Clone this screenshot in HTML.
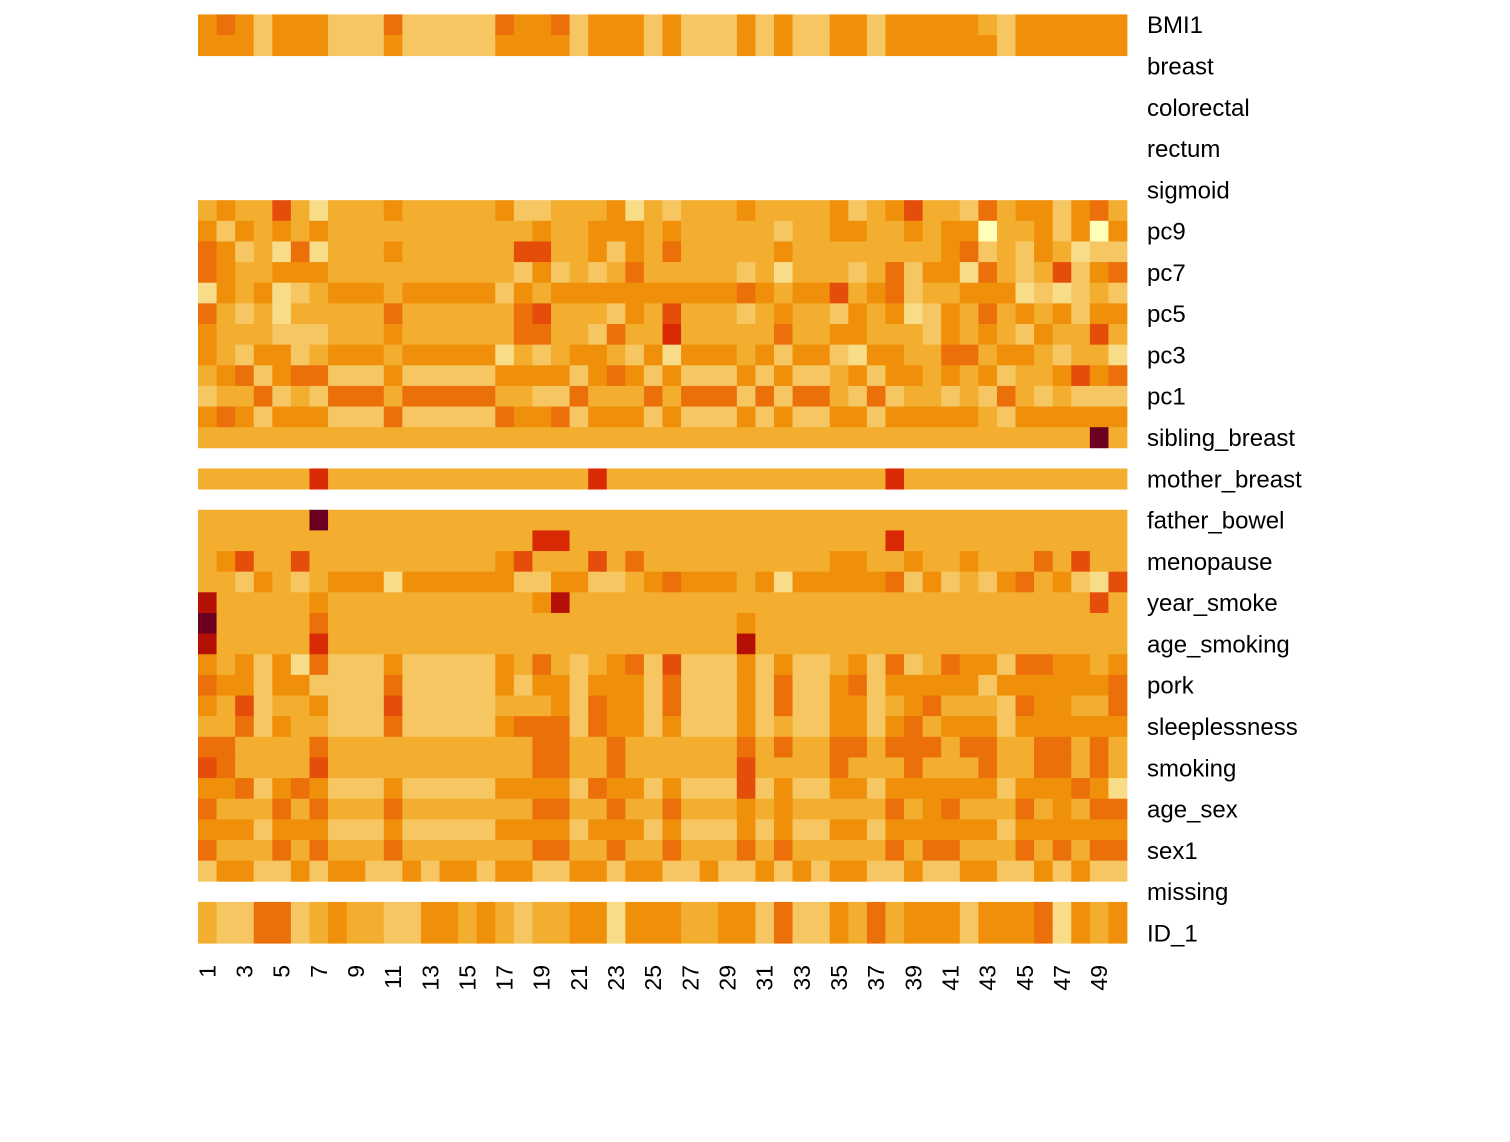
<!DOCTYPE html>
<html><head><meta charset="utf-8"><style>
html,body{margin:0;padding:0;background:#fff;}
svg{display:block;}
text{font-family:"Liberation Sans",Arial,sans-serif;fill:#000;}
</style></head><body>
<svg id="s" width="1510" height="1142" xmlns="http://www.w3.org/2000/svg"></svg>
<script>
var C={a:"#F3AE2F",o:"#F0900A",l:"#F5C662",p:"#F8DC88",y:"#FFFFBA",d:"#EC700A",r:"#E54E0A",R:"#D92A05",D:"#B51005",X:"#6B0020"};
function fill(base,m){var a=[];for(var i=0;i<50;i++)a.push(base);for(var k in m)a[k-1]=m[k];return a.join(" ");}
var rows=[
"o d o l o o o l l l d l l l l l d o o d l o o o l o l l l o l o l l o o l o o o o o a l o o o o o o",
"o o o l o o o l l l o l l l l l o o o o l o o o l o l l l o l o l l o o l o o o o o o l o o o o o o",
"-","-","-","-","-","-","-",
"a o a a r a p a a a o a a a a a o l l a a a o p a l a a a o a a a a o l a o r a a l d a o o l o d a",
"o l o a o a o a a a a a a a a a a a o a a o o o a o a a a a a l a a o o a a o a o o y a a o l o y o",
"d o l a p d p a a a o a a a a a a r r a a o l o a d a a a a a o a a a a a a a a o d l a l o a p l l",
"d o a a o o o a a a a a a a a a a l o l a l a d a a a a a l a p a a a l a d l o o p d a l a r l o d",
"p o a o p l a o o o a o o o o o l o a o o o o o o o o o o d o a o o r a o d l a a o o o p l p l a l",
"d a l a p a a a a a d a a a a a a d r a a a l o a r a a a l a o a a l o a o p l o a d a o a o l o o",
"o a a a l l l a a a o a a a a a a d d a a l d a a R a a a a a d a a o o a a a l o a o a l o a a r a",
"o a l o o l a o o o a o o o o o p a l a o o a l o p o o o a o l o o l p o o a a d d a o o a l a a p",
"a o d l o d d l l l o l l l l l o o o o l o d o l o l l l o l o l l a o l o o a o a o l a a o r o d",
"l a a d l a l d d d a d d d d d a a l l d a a a d a d d d l d l d d a l d l a a l a l d a l a l l l",
"o d o l o o o l l l d l l l l l d o o d l o o o l o l l l o l o l l o o l o o o o o a l o o o o o o",
fill("a",{49:"X"}),
"-",
fill("a",{7:"R",22:"R",38:"R"}),
"-",
fill("a",{7:"X"}),
fill("a",{19:"R",20:"R",38:"R"}),
"a o r a a r a a a a a a a a a a o r a a a r a d a a a a a a a a a a o o a a o a a o a a a d a r a a",
"a a l o a l a o o o p o o o o o o l l o o l l a o d o o o a o p o o o o o d l o l a l o d a o l p r",
fill("a",{1:"D",7:"o",19:"o",20:"D",49:"r"}),
fill("a",{1:"X",7:"d",30:"o"}),
fill("a",{1:"D",7:"R",30:"D"}),
"o a o l o p d l l l o l l l l l o a d a l a o d l r l l l o l o l l a o l d l a d o o l d d o o a o",
"d o o l o o l l l l d l l l l l o l o o l o o o l d l l l o l d l l o d l o o o o o l o o o o o o d",
"o a r l a a o l l l r l l l l l a a a o l d o o l d l l l o l d l l o o l a o d a a a l d o o a a d",
"a a d l o a a l l l d l l l l l o d d d l d o o l o l l l o l a l l o o l o d a o o o l o o o o o o",
"d d a a a a d a a a a a a a a a a a d d a a d a a a a a a d a d a a d d a d d d a d d a a d d a d a",
"r d a a a a r a a a a a a a a a a a d d a a d a a a a a a r a a a a d a a a d a a a d a a d d a d a",
"o o d l o d o l l l o l l l l l o o o o l d o o l o l l l r l o l l o o l o o o o o o l o o o d o p",
"d a a a d a d a a a d a a a a a a a d d a a d a a d a a a o a o a a a a a d a o d a a a d a o a d d",
"o o o l o o o l l l o l l l l l o o o o l o o o l o l l l o l o l l o o l o o o o o o l o o o o o o",
"d a a a d a d a a a d a a a a a a a d d a a d a a d a a a d a d a a a a a d a d d a a a d a d a d d",
"l o o l l o l o o l l o l o o l o o l l o o l o o l l o l l o l o l o o l l o l l o o l l o l o l l",
"-",
"a l l d d l a o a a l l o o a o a l a a o o p o o o a a o o l d l l o a d a o o o l o o o d p o a o",
"a l l d d l a o a a l l o o a o a l a a o o p o o o a a o o l d l l o a d a o o o l o o o d p o a o"
];
var x0=198,x1=1127,y0=14.4,y1=943.2,cw=(x1-x0)/50,rh=(y1-y0)/45;
var out="";
for(var r=0;r<rows.length;r++){
  if(rows[r]=="-")continue;
  var c=rows[r].split(" ");
  var ya=y0+r*rh,yb=y0+(r+1)*rh;
  var i=0;
  while(i<50){var j=i;while(j+1<50&&c[j+1]==c[i])j++;
    var xa=x0+i*cw,xb=x0+(j+1)*cw;
    out+='<rect x="'+xa.toFixed(2)+'" y="'+ya.toFixed(2)+'" width="'+(xb-xa+0.4).toFixed(2)+'" height="'+(yb-ya+0.4).toFixed(2)+'" fill="'+C[c[i]]+'"/>';
    i=j+1;}
}
var labs=["BMI1","breast","colorectal","rectum","sigmoid","pc9","pc7","pc5","pc3","pc1","sibling_breast","mother_breast","father_bowel","menopause","year_smoke","age_smoking","pork","sleeplessness","smoking","age_sex","sex1","missing","ID_1"];
for(var k=0;k<labs.length;k++){
  var cy=y0+(2*k+0.5)*rh;
  out+='<text x="1147" y="'+(cy+8.5).toFixed(1)+'" font-size="24">'+labs[k]+'</text>';
}
for(var n=1;n<=50;n+=2){
  var cx=x0+(n-0.5)*cw;
  out+='<text transform="translate('+(cx+8).toFixed(1)+',965) rotate(-90)" text-anchor="end" font-size="23">'+n+'</text>';
}
document.getElementById("s").innerHTML=out;
</script>
</body></html>
